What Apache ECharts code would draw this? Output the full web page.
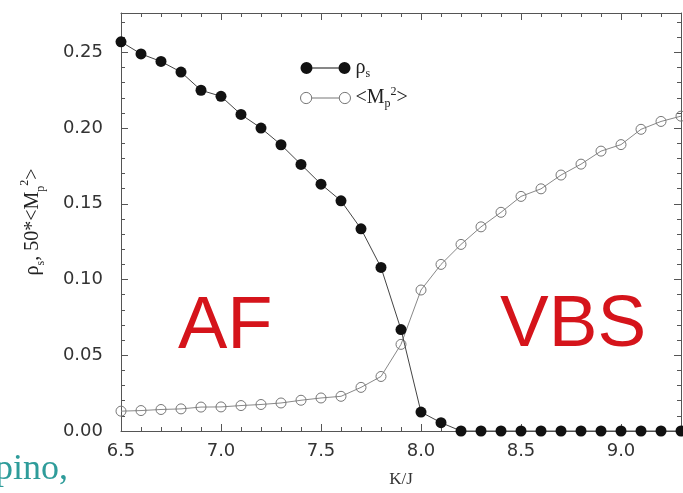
<!DOCTYPE html>
<html><head><meta charset="utf-8">
<script src="https://cdn.jsdelivr.net/npm/echarts@6/dist/echarts.min.js"></script>
<style>html,body{margin:0;padding:0;background:#fff}#c{width:683px;height:493px}</style>
</head><body><div id="c"></div>
<script>
// K/J values
const kValues = [6.5,6.6,6.7,6.8,6.9,7.0,7.1,7.2,7.3,7.4,7.5,7.6,7.7,7.8,7.9,8.0,8.1,8.2,8.3,8.4,8.5,8.6,8.7,8.8,8.9,9.0,9.1,9.2,9.3];
// rho_s (filled circles)
const rhoS = [0.257,0.249,0.244,0.237,0.225,0.221,0.209,0.200,0.189,0.176,0.163,0.152,0.1335,0.108,0.067,0.0125,0.0055,0,0,0,0,0,0,0,0,0,0,0,0];
// 50*<Mp^2> (open circles)
const mp2 = [0.0131,0.0135,0.0142,0.0146,0.0158,0.0159,0.0168,0.0175,0.0185,0.0203,0.0218,0.0229,0.0288,0.036,0.0572,0.0931,0.110,0.1232,0.1348,0.1444,0.1549,0.1599,0.1690,0.1762,0.1848,0.1891,0.1992,0.2044,0.2079];
const xTickLabels = ['6.5','7.0','7.5','8.0','8.5','9.0'];
const yTickLabels = ['0.00','0.05','0.10','0.15','0.20','0.25'];
const seriesNames = ['ρs','<Mp2>'];

const chart = echarts.init(document.getElementById('c'), null, {renderer:'canvas'});
const axisColor = '#555';
const labelFont = {fontFamily:'DejaVu Sans', fontSize:18, color:'#333'};
function fmtX(v){ const s = v.toFixed(1); return xTickLabels.indexOf(s) >= 0 ? s : ''; }
function fmtY(v){ const s = v.toFixed(2); return yTickLabels.indexOf(s) >= 0 ? s : ''; }
const xBase = {type:'value', min:6.5, max:9.3, interval:0.5,
  axisLine:{show:true, onZero:false, lineStyle:{color:axisColor, width:1}},
  axisTick:{show:true, inside:true, length:7, lineStyle:{color:axisColor}},
  minorTick:{show:true, splitNumber:5, length:4, lineStyle:{color:axisColor}},
  splitLine:{show:false}};
const yBase = {type:'value', min:0, max:0.276, interval:0.05,
  axisLine:{show:true, onZero:false, lineStyle:{color:axisColor, width:1}},
  axisTick:{show:true, inside:true, length:7, lineStyle:{color:axisColor}},
  minorTick:{show:true, splitNumber:5, length:4, lineStyle:{color:axisColor}},
  splitLine:{show:false}};

function mkRich(base){
  return {
    s:{fontFamily:'Liberation Serif', fontSize:Math.round(base*0.6), verticalAlign:'bottom', padding:[Math.round(base*0.4),0,0,0], color:'#222'},
    p:{fontFamily:'Liberation Serif', fontSize:Math.round(base*0.62), verticalAlign:'bottom', padding:[Math.round(base*0.5),0,0,0], color:'#222'},
    sup:{fontFamily:'Liberation Serif', fontSize:Math.round(base*0.62), verticalAlign:'top', padding:[0,0,Math.round(base*0.55),0], color:'#222'}
  };
}

chart.setOption({
  animation:false,
  backgroundColor:'#fff',
  grid:{left:121, right:2, top:13, bottom:58, containLabel:false},
  xAxis:[
    Object.assign({}, xBase, {position:'bottom', name:'K/J', nameLocation:'middle', nameGap:40,
      nameTextStyle:{fontFamily:'Liberation Serif', fontSize:17, color:'#333'},
      axisLabel:Object.assign({margin:11, showMaxLabel:false, formatter:fmtX}, labelFont)}),
    Object.assign({}, xBase, {position:'top', axisLabel:{show:false}})
  ],
  yAxis:[
    Object.assign({}, yBase, {position:'left', name:'ρ{s|s}, 50*<M{p|p}{sup|2}>', nameLocation:'middle', nameGap:74, nameRotate:90,
      nameTextStyle:{fontFamily:'Liberation Serif', fontSize:20, color:'#222', lineHeight:28, rich:mkRich(20)},
      axisLabel:Object.assign({margin:18, showMaxLabel:false, formatter:fmtY}, labelFont)}),
    Object.assign({}, yBase, {position:'right', axisLabel:{show:false}})
  ],
  legend:{
    orient:'vertical', left:295, top:51, itemWidth:50, itemHeight:12, itemGap:6,
    selectedMode:false,
    textStyle:{fontFamily:'Liberation Serif', fontSize:20, color:'#222', lineHeight:24, rich:mkRich(20)},
    formatter:function(n){ return n === seriesNames[0] ? 'ρ{s|s}' : '<M{p|p}{sup|2}>'; },
    data:[
      {name:seriesNames[0], icon:'path://M0,6a6,6 0 1,0 12,0a6,6 0 1,0 -12,0M12,5.5h26v1h-26zM38,6a6,6 0 1,0 12,0a6,6 0 1,0 -12,0',
        itemStyle:{color:'#111', borderWidth:0}},
      {name:seriesNames[1], icon:'path://M0.5,6a5.5,5.5 0 1,0 11,0a5.5,5.5 0 1,0 -11,0M11.5,6L38.5,6M38.5,6a5.5,5.5 0 1,0 11,0a5.5,5.5 0 1,0 -11,0',
        itemStyle:{color:'rgba(0,0,0,0)', borderColor:'#777', borderWidth:1}}
    ]
  },
  graphic:[
    {type:'text', left:178, top:291, z:1, style:{text:'AF', fontFamily:'Liberation Sans', fontSize:74, fill:'#d5141b'}},
    {type:'text', left:500, top:289, z:1, style:{text:'VBS', fontFamily:'Liberation Sans', fontSize:73, fill:'#d5141b'}},
    {type:'text', left:-5, top:452, z:1, style:{text:'pino,', fontFamily:'Liberation Serif', fontSize:36, fill:'#2e9c9a'}}
  ],
  series:[
    {name:seriesNames[1], type:'line', xAxisIndex:0, yAxisIndex:0, z:3,
      data:kValues.map((k,i)=>[k, mp2[i]]),
      symbol:'circle', symbolSize:10, showSymbol:true, clip:false,
      lineStyle:{color:'#888', width:1},
      itemStyle:{color:'rgba(0,0,0,0)', borderColor:'#777', borderWidth:1}},
    {name:seriesNames[0], type:'line', xAxisIndex:0, yAxisIndex:0, z:4,
      data:kValues.map((k,i)=>[k, rhoS[i]]),
      symbol:'circle', symbolSize:11, showSymbol:true, clip:false,
      lineStyle:{color:'#444', width:1},
      itemStyle:{color:'#111', borderWidth:0}}
  ]
});
</script>
</body></html>
